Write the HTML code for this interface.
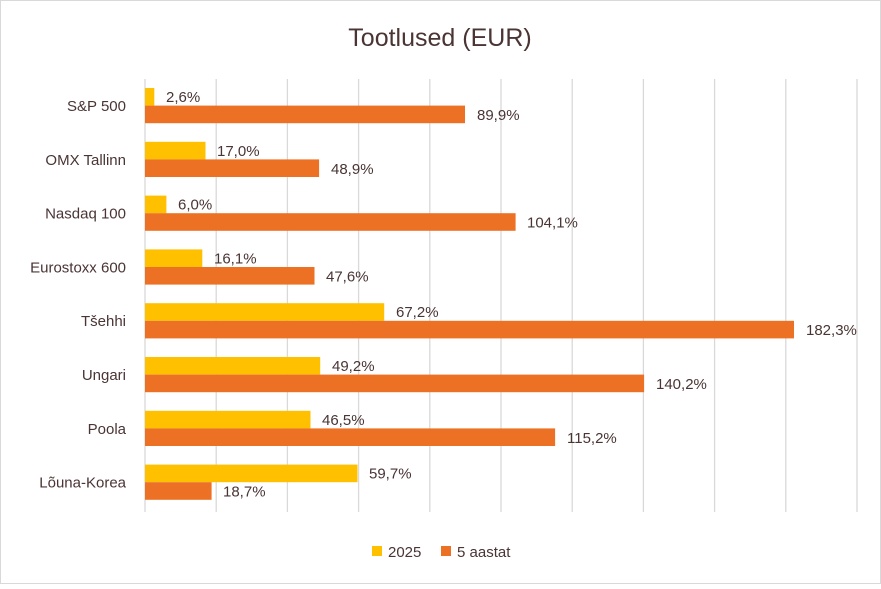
<!DOCTYPE html>
<html><head><meta charset="utf-8"><style>
body{margin:0;background:#fff}
svg text{font-family:"Liberation Sans",sans-serif;fill:#4a3434}
</style></head><body>
<svg width="881" height="584" xmlns="http://www.w3.org/2000/svg">
<rect x="0.5" y="0.5" width="880" height="583" fill="#fff" stroke="#d9d9d9"/>
<text x="440" y="46" font-size="25" text-anchor="middle">Tootlused (EUR)</text>
<g stroke="#d9d9d9" stroke-width="1.3">
<line x1="145" y1="79" x2="145" y2="512"/><line x1="216.2" y1="79" x2="216.2" y2="512"/><line x1="287.4" y1="79" x2="287.4" y2="512"/><line x1="358.6" y1="79" x2="358.6" y2="512"/><line x1="429.8" y1="79" x2="429.8" y2="512"/><line x1="501" y1="79" x2="501" y2="512"/><line x1="572.2" y1="79" x2="572.2" y2="512"/><line x1="643.4" y1="79" x2="643.4" y2="512"/><line x1="714.6" y1="79" x2="714.6" y2="512"/><line x1="785.8" y1="79" x2="785.8" y2="512"/><line x1="857" y1="79" x2="857" y2="512"/>
</g>
<g font-size="15">
<!-- rows: top=88+53.8*i -->
<g transform="translate(0,0)"><rect x="145" y="88" width="9.3" height="17.6" fill="#ffc000"/><rect x="145" y="105.6" width="320" height="17.6" fill="#ed7125"/><text x="126" y="111" text-anchor="end">S&amp;P 500</text><text x="166" y="102">2,6%</text><text x="477" y="120">89,9%</text></g>
<g transform="translate(0,53.8)"><rect x="145" y="88" width="60.5" height="17.6" fill="#ffc000"/><rect x="145" y="105.6" width="174.1" height="17.6" fill="#ed7125"/><text x="126" y="111" text-anchor="end">OMX Tallinn</text><text x="217" y="102">17,0%</text><text x="331" y="120">48,9%</text></g>
<g transform="translate(0,107.6)"><rect x="145" y="88" width="21.4" height="17.6" fill="#ffc000"/><rect x="145" y="105.6" width="370.6" height="17.6" fill="#ed7125"/><text x="126" y="111" text-anchor="end">Nasdaq 100</text><text x="178" y="102">6,0%</text><text x="527" y="120">104,1%</text></g>
<g transform="translate(0,161.4)"><rect x="145" y="88" width="57.3" height="17.6" fill="#ffc000"/><rect x="145" y="105.6" width="169.5" height="17.6" fill="#ed7125"/><text x="126" y="111" text-anchor="end">Eurostoxx 600</text><text x="214" y="102">16,1%</text><text x="326" y="120">47,6%</text></g>
<g transform="translate(0,215.2)"><rect x="145" y="88" width="239.2" height="17.6" fill="#ffc000"/><rect x="145" y="105.6" width="649" height="17.6" fill="#ed7125"/><text x="126" y="111" text-anchor="end">Tšehhi</text><text x="396" y="102">67,2%</text><text x="806" y="120">182,3%</text></g>
<g transform="translate(0,269)"><rect x="145" y="88" width="175.2" height="17.6" fill="#ffc000"/><rect x="145" y="105.6" width="499.1" height="17.6" fill="#ed7125"/><text x="126" y="111" text-anchor="end">Ungari</text><text x="332" y="102">49,2%</text><text x="656" y="120">140,2%</text></g>
<g transform="translate(0,322.8)"><rect x="145" y="88" width="165.5" height="17.6" fill="#ffc000"/><rect x="145" y="105.6" width="410.1" height="17.6" fill="#ed7125"/><text x="126" y="111" text-anchor="end">Poola</text><text x="322" y="102">46,5%</text><text x="567" y="120">115,2%</text></g>
<g transform="translate(0,376.6)"><rect x="145" y="88" width="212.5" height="17.6" fill="#ffc000"/><rect x="145" y="105.6" width="66.6" height="17.6" fill="#ed7125"/><text x="126" y="111" text-anchor="end">Lõuna-Korea</text><text x="369" y="102">59,7%</text><text x="223" y="120">18,7%</text></g>
</g>
<rect x="372" y="546" width="10" height="10" fill="#ffc000"/><text x="388" y="557" font-size="15">2025</text>
<rect x="441" y="546" width="10" height="10" fill="#ed7125"/><text x="457" y="557" font-size="15">5 aastat</text>
</svg>
</body></html>
